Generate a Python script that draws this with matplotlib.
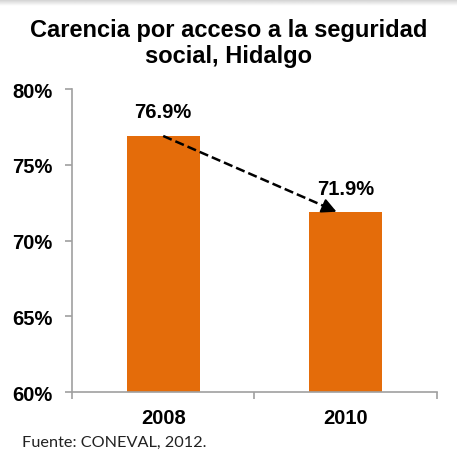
import numpy as np
import matplotlib.pyplot as plt

# data
years = ['2008', '2010']
values = [76.9, 71.9]
labels = ['76.9%', '71.9%']
yticks = [60, 65, 70, 75, 80]

plt.rcParams['font.family'] = ['Liberation Sans', 'DejaVu Sans']
bar_color = '#E46C0A'
axis_color = '#A0A0A0'

fig = plt.figure(figsize=(4.57, 4.56), dpi=100)
ax = fig.add_axes([0.1575, 0.138, 0.7985, 0.6646])

x = range(len(years))
ax.bar(x, values, width=0.4, color=bar_color, bottom=0)
ax.set_ylim(60, 80)
ax.set_xlim(-0.5, 1.5)

# value labels above bars
ax.text(0, values[0] + 1.6, labels[0], ha='center', va='center', fontsize=14.5, fontweight='bold')
ax.text(1, values[1] + 1.55, labels[1], ha='center', va='center', fontsize=14.5, fontweight='bold')

# dashed arrow between bar tops
end_x = 0.95
ax.plot([0, end_x - 0.06], [values[0], values[1] + 0.33], ls='--', color='black', lw=1.8)
ax.annotate('', xy=(end_x, values[1]), xytext=(end_x - 0.07, values[1] + 0.37),
            arrowprops=dict(arrowstyle='-|>', color='black', lw=1.5, mutation_scale=22,
                            shrinkA=0, shrinkB=0))

# axes styling
ax.spines['top'].set_visible(False)
ax.spines['right'].set_visible(False)
ax.spines['left'].set_color(axis_color)
ax.spines['bottom'].set_color(axis_color)
ax.spines['left'].set_linewidth(1.2)
ax.spines['bottom'].set_linewidth(1.2)

ax.set_yticks(yticks)
ax.set_yticklabels([f'{t}%' for t in yticks], fontsize=14.5, fontweight='bold')
ax.tick_params(axis='y', color=axis_color, length=5, width=1.2, pad=9)

ax.set_xticks([-0.5, 0.5, 1.5])
ax.set_xticklabels([])
ax.tick_params(axis='x', color=axis_color, length=5, width=1.2)
for i, yr in enumerate(years):
    ax.text(i, -0.085, yr, transform=ax.get_xaxis_transform(), ha='center', va='center',
            fontsize=14.5, fontweight='bold')

# faint shadow strip at the top edge
shade = fig.add_axes([0, 1 - 7 / 456, 1, 7 / 456])
shade.imshow(np.linspace(0.8, 1.0, 20).reshape(-1, 1), cmap='gray', vmin=0, vmax=1,
             aspect='auto', extent=[0, 1, 0, 1])
shade.axis('off')

fig.text(0.5, 0.905, 'Carencia por acceso a la seguridad\nsocial, Hidalgo', ha='center', va='center',
         fontsize=17, fontweight='bold', linespacing=1.2)
fig.text(0.048, 0.028, 'Fuente: CONEVAL, 2012.', ha='left', va='center', fontsize=11.7,
         family=['Lato', 'DejaVu Sans'], color='#222222')

plt.savefig('out.png', dpi=100)
